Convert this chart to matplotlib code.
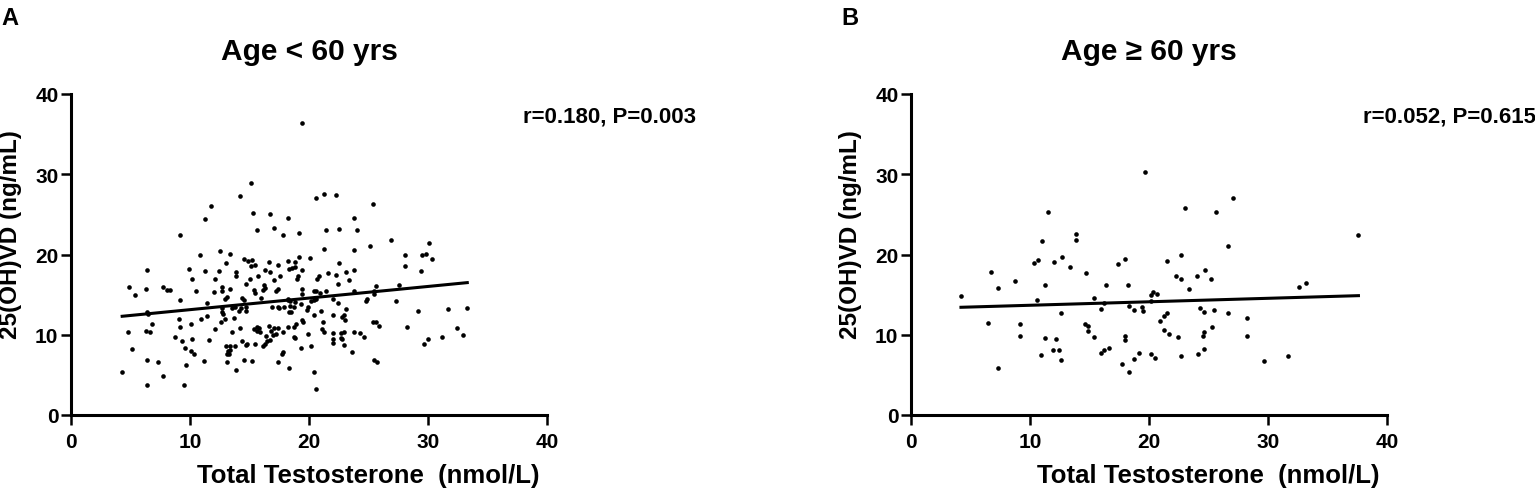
import numpy as np
import matplotlib
matplotlib.use('Agg')
import matplotlib.pyplot as plt

plt.rcParams['font.family'] = ['Liberation Sans', 'DejaVu Sans']
plt.rcParams['font.weight'] = 'bold'

# panel A: Age < 60 yrs
young_tt = [15.1, 14.2, 11.8, 11.3, 15.3, 16.7, 18.2, 15.6, 17.1, 17.8, 9.2, 10.8, 12.5, 13.4,
            19.4, 20.6, 21.3, 22.3, 25.4, 19.2, 21.4, 22.5, 23.8, 24.0, 21.3, 23.8, 25.1, 26.9,
            30.1, 28.1, 29.5, 29.8, 30.3, 19.2, 20.1,
            14.5, 14.9, 15.2, 15.1, 15.5, 16.6, 17.4, 18.2, 6.4, 9.9, 11.3, 12.4, 13.0, 13.9,
            13.9, 16.3, 16.7, 15.7, 17.6, 17.1, 10.2, 12.1, 15.0, 14.7, 4.9, 5.4, 6.3, 7.7, 8.1,
            8.3, 10.5, 12.0, 12.7, 12.7, 13.4, 13.1, 12.9, 14.4, 14.5, 15.4, 15.5, 16.2, 16.3,
            16.1, 17.2, 17.4, 16.0, 9.2, 11.4, 18.2, 6.4, 6.5, 12.7, 12.7, 12.8, 13.5, 13.8,
            14.1, 14.3, 14.7, 14.7, 16.9, 17.4, 17.5, 17.9, 18.3, 9.1, 10.9, 11.4, 12.6, 12.9,
            13.7, 6.8, 4.8, 6.3, 6.6, 9.2, 10.1, 12.1, 13.5, 14.2, 15.4, 15.6, 15.8, 15.9, 15.6,
            16.6, 16.8, 17.1, 17.4, 17.2, 16.4, 17.0, 17.8, 18.2, 8.7, 9.3, 10.2, 11.6, 13.0,
            13.4, 13.8, 13.2, 13.4, 13.3, 13.1, 14.4, 14.7, 14.8, 15.5, 16.1, 16.3, 16.5, 16.7,
            17.7, 17.8, 5.1, 9.6, 10.1, 10.3, 6.4, 7.3, 11.2, 13.1, 14.5, 15.2, 17.4, 9.7, 13.9,
            4.3, 7.7, 6.4, 9.5, 18.3,
            18.8, 18.3, 18.6, 18.8, 19.4, 19.1, 19.0, 22.5, 21.6, 22.3, 23.1, 23.8, 20.8, 20.7,
            23.4, 22.4, 28.1, 29.4, 19.4, 19.4, 20.4, 20.6, 20.9, 21.4, 23.8, 25.6, 25.5, 25.5,
            27.6, 18.2, 18.4, 18.8, 20.6, 20.4, 20.2, 22.0, 22.4, 24.9, 24.8, 27.3, 18.4, 18.7,
            18.5, 19.3, 19.8, 19.9, 20.4, 21.0, 22.0, 23.1, 22.9, 22.8, 23.0, 29.2, 31.7, 33.3,
            19.4, 19.5, 18.9, 18.7, 21.2, 25.4, 25.6, 25.9, 28.2, 32.4, 19.9, 21.1, 21.3, 22.0,
            22.0, 22.0, 22.7, 22.9, 22.7, 22.8, 23.8, 24.3, 24.6, 22.9, 18.7, 18.8, 20.2, 19.3,
            31.2, 32.9, 30.0, 29.7, 23.6, 25.5, 25.7, 20.4, 20.6]
young_vd = [28.9, 27.3, 26.1, 24.4, 25.2, 25.1, 24.5, 23.0, 23.3, 22.4, 22.4, 19.9, 20.4, 20.1,
            36.4, 27.0, 27.6, 27.4, 26.3, 22.7, 23.0, 23.2, 24.6, 23.1, 20.7, 20.5, 21.0, 21.8,
            21.4, 19.9, 19.9, 20.1, 19.5, 19.7, 19.6,
            19.4, 19.2, 19.3, 18.6, 18.7, 19.1, 18.7, 19.2, 18.1, 18.2, 18.0, 18.0, 18.9, 17.8,
            17.3, 18.1, 17.8, 17.3, 17.3, 16.8, 16.9, 17.0, 16.9, 16.3, 16.0, 14.9, 15.7, 15.9, 15.6,
            15.6, 15.4, 15.3, 16.0, 15.5, 15.7, 14.7, 14.4, 14.6, 14.3, 15.6, 15.2, 16.2, 15.8,
            15.6, 15.5, 15.7, 14.6, 14.3, 13.9, 14.3, 12.8, 12.6, 13.3, 12.8, 12.6, 13.3, 13.5,
            13.0, 13.3, 13.5, 13.0, 13.4, 13.5, 13.3, 13.5, 12.8, 12.0, 12.0, 12.3, 11.6, 12.0,
            12.1, 11.4, 10.4, 10.5, 10.3, 11.0, 11.4, 10.7, 10.3, 10.8, 10.7, 11.0, 10.9, 10.4, 10.5,
            11.1, 10.5, 10.8, 10.8, 10.1, 9.9, 10.0, 10.3, 11.0, 9.7, 9.2, 9.5, 9.3, 8.6,
            8.6, 8.6, 8.0, 8.1, 7.6, 7.6, 9.2, 8.7, 8.9, 8.9, 8.6, 8.9, 9.2, 9.3,
            7.6, 7.9, 8.2, 8.4, 8.0, 7.6, 6.8, 6.6, 6.7, 6.6, 6.8, 6.7, 6.6, 6.2, 5.6,
            5.3, 4.9, 3.8, 3.7, 5.9,
            19.1, 18.2, 18.3, 18.4, 18.1, 17.3, 17.0, 19.0, 17.7, 17.4, 17.8, 18.1, 17.3, 16.9,
            16.8, 16.3, 18.6, 18.0, 15.7, 15.1, 15.4, 15.5, 15.2, 15.4, 15.4, 16.1, 15.4, 15.1,
            16.2, 14.4, 14.2, 14.1, 14.5, 14.3, 14.2, 14.5, 14.0, 14.4, 14.2, 14.2, 13.6, 13.4,
            12.8, 13.8, 13.1, 13.5, 12.5, 13.0, 12.4, 13.2, 12.5, 12.2, 11.8, 13.0, 13.2, 13.3,
            11.9, 11.6, 11.3, 11.0, 11.6, 11.6, 11.6, 11.1, 11.0, 10.9, 10.1, 10.7, 10.4, 10.2,
            9.5, 9.0, 10.2, 10.3, 9.6, 9.5, 10.3, 10.2, 9.7, 8.7, 9.7, 9.6, 8.6, 8.4,
            9.7, 10.0, 9.5, 8.9, 7.8, 6.9, 6.6, 5.3, 3.3]

# panel B: Age >= 60 yrs
old_tt = [19.7, 11.5, 13.9, 13.9, 11.0, 10.3, 10.7, 12.0, 12.7, 13.4, 14.7, 17.4, 18.0, 6.7,
          8.7, 7.3, 11.3, 16.4, 18.2, 4.2, 10.6, 15.4, 16.2, 16.0, 18.3, 18.7, 19.4, 19.5,
          12.6, 6.5, 9.2, 14.6, 14.9, 14.9, 9.2, 11.3, 12.2, 15.4, 18.0, 18.0, 11.9, 12.4,
          10.9, 12.6, 16.0, 16.2, 16.6, 19.2, 18.7, 17.7, 18.3, 7.3,
          27.1, 23.0, 25.6, 37.6, 26.6, 22.7, 21.5, 24.7, 22.3, 22.7, 24.0, 25.2, 23.4, 32.6,
          33.2, 20.3, 20.2, 20.7, 20.2, 24.3, 24.6, 25.5, 26.6, 21.5, 21.3, 20.9, 28.2, 25.3,
          21.3, 21.7, 22.4, 24.6, 24.5, 28.2, 24.6, 20.2, 20.5, 22.7, 24.1, 29.7, 31.7]
old_vd = [30.3, 25.3, 22.5, 21.8, 21.7, 18.9, 19.3, 19.1, 19.7, 18.5, 17.7, 18.8, 19.5, 17.8,
          16.7, 15.8, 16.2, 16.2, 16.2, 14.8, 14.3, 14.6, 14.0, 13.2, 13.6, 13.1, 13.5, 12.9,
          12.7, 11.5, 11.4, 11.4, 11.1, 10.5, 9.9, 9.6, 9.5, 9.7, 9.9, 9.3, 8.1, 8.1,
          7.5, 6.9, 7.7, 8.1, 8.3, 7.7, 7.0, 6.4, 5.4, 5.8,
          27.1, 25.8, 25.3, 22.4, 21.0, 20.0, 19.2, 18.1, 17.3, 16.9, 17.3, 16.9, 15.7, 15.9,
          16.4, 15.3, 14.9, 15.1, 14.2, 13.3, 12.8, 13.1, 12.7, 12.7, 12.3, 11.7, 12.1, 11.0,
          10.6, 10.1, 9.7, 10.4, 9.9, 9.9, 8.2, 7.6, 7.1, 7.4, 7.6, 6.7, 7.3]

# regression lines (intercept, slope)
young_fit = (11.68, 0.1446)
old_fit = (13.24, 0.0434)

titles = ['Age < 60 yrs', 'Age \u2265 60 yrs']
stats = ['r=0.180, P=0.003', 'r=0.052, P=0.615']
letters = ['A', 'B']
ticks = [0, 10, 20, 30, 40]

fig = plt.figure(figsize=(15.35, 4.89), dpi=100)
W, H = 1535, 489
lefts = [71, 911]
ax_w, ax_top, ax_bot = 476, 95, 416
ax_h = ax_bot - ax_top

panels = [(young_tt, young_vd, young_fit), (old_tt, old_vd, old_fit)]
for i, (tt, vd, fit) in enumerate(panels):
    ax = fig.add_axes([lefts[i] / W, 1 - ax_bot / H, ax_w / W, ax_h / H])
    ax.scatter(tt, vd, s=11, c='black', linewidths=0, zorder=3, clip_on=False)
    xs = np.array([min(tt), max(tt)])
    ax.plot(xs, fit[0] + fit[1] * xs, color='black', lw=2.2, zorder=2)
    ax.set_xlim(0, 40)
    ax.set_ylim(0, 40)
    ax.set_xticks(ticks)
    ax.set_yticks(ticks)
    for side in ['top', 'right']:
        ax.spines[side].set_visible(False)
    for side in ['left', 'bottom']:
        ax.spines[side].set_linewidth(2.2)
    ax.tick_params(width=1.8, length=7, labelsize=15)
    ax.tick_params(axis='x', pad=5)
    ax.tick_params(axis='y', pad=2)
    for lab in ax.get_xticklabels() + ax.get_yticklabels():
        lab.set_fontweight('bold')
    ax.set_xlabel('Total Testosterone  (nmol/L)', fontsize=18.5, fontweight='bold')
    ax.set_ylabel('25(OH)VD (ng/mL)', fontsize=17.5, fontweight='bold')
    # the x label sits right of the axis centre in the original
    ax.xaxis.set_label_coords((368 - 71) / ax_w, -(483 - ax_bot) / ax_h)
    ax.xaxis.label.set_va('baseline')
    ax.yaxis.set_label_coords(-60 / ax_w, (ax_bot - 235) / ax_h)
    ax.yaxis.label.set_va('center')
    ax.text(1.0 - 24 / ax_w, 1 - (117 - ax_top) / ax_h, stats[i], transform=ax.transAxes,
            fontsize=16, fontweight='bold', va='center', ha='left')
    fig.text((lefts[i] + ax_w / 2) / W, 1 - 60 / H, titles[i], fontsize=21.5,
             fontweight='bold', ha='center', va='baseline')
    fig.text((lefts[i] - 61) / W, 1 - 25 / H, letters[i], fontsize=17,
             fontweight='bold', ha='center', va='baseline')

fig.savefig('out.png', dpi=100)
